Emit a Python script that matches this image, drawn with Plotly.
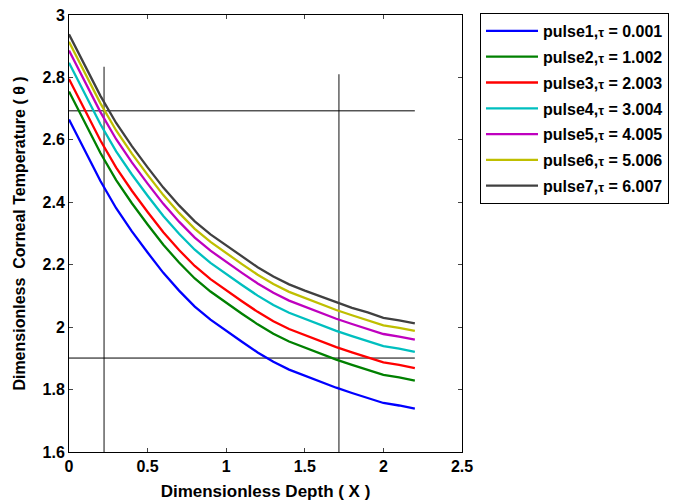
import plotly.graph_objects as go

depth = [0.0, 0.1, 0.2, 0.3, 0.4, 0.5, 0.6, 0.7, 0.8, 0.9, 1.0, 1.1,
         1.2, 1.3, 1.4, 1.5, 1.6, 1.7, 1.8, 1.9, 2.0, 2.1, 2.2]

pulse1 = [2.665, 2.564, 2.468, 2.381, 2.307, 2.239, 2.174, 2.117, 2.066, 2.024, 1.988, 1.953,
          1.919, 1.889, 1.864, 1.844, 1.825, 1.806, 1.789, 1.774, 1.757, 1.749, 1.739]
pulse2 = [2.755, 2.654, 2.558, 2.471, 2.397, 2.329, 2.264, 2.207, 2.156, 2.114, 2.078, 2.043,
          2.009, 1.979, 1.954, 1.934, 1.915, 1.896, 1.879, 1.864, 1.847, 1.839, 1.829]
pulse3 = [2.795, 2.694, 2.598, 2.511, 2.437, 2.369, 2.304, 2.247, 2.196, 2.154, 2.118, 2.083,
          2.049, 2.019, 1.994, 1.974, 1.955, 1.936, 1.919, 1.904, 1.887, 1.879, 1.869]
pulse4 = [2.847, 2.746, 2.650, 2.563, 2.489, 2.421, 2.356, 2.299, 2.248, 2.206, 2.170, 2.135,
          2.101, 2.071, 2.046, 2.026, 2.007, 1.988, 1.971, 1.956, 1.939, 1.931, 1.921]
pulse5 = [2.886, 2.785, 2.689, 2.602, 2.528, 2.460, 2.395, 2.338, 2.287, 2.245, 2.209, 2.174,
          2.140, 2.110, 2.085, 2.065, 2.046, 2.027, 2.010, 1.995, 1.978, 1.970, 1.960]
pulse6 = [2.914, 2.813, 2.717, 2.630, 2.556, 2.488, 2.423, 2.366, 2.315, 2.273, 2.237, 2.202,
          2.168, 2.138, 2.113, 2.093, 2.074, 2.055, 2.038, 2.023, 2.006, 1.998, 1.988]
pulse7 = [2.938, 2.837, 2.741, 2.654, 2.580, 2.512, 2.447, 2.390, 2.339, 2.297, 2.261, 2.226,
          2.192, 2.162, 2.137, 2.117, 2.098, 2.079, 2.062, 2.047, 2.030, 2.022, 2.012]

series = [pulse1, pulse2, pulse3, pulse4, pulse5, pulse6, pulse7]
labels = ["pulse1,", "pulse2,", "pulse3,", "pulse4,", "pulse5,", "pulse6,", "pulse7,"]
taus = ["0.001", "1.002", "2.003", "3.004", "4.005", "5.006", "6.007"]
colors = ["#0000FF", "#008000", "#FF0000", "#00BFBF", "#BF00BF", "#BFBF00", "#404040"]

# guide lines
vline1_x = [0.223, 0.223]
vline1_y = [1.6, 2.834]
vline2_x = [1.717, 1.717]
vline2_y = [1.6, 2.81]
hline1_x = [0.0, 2.2]
hline1_y = [2.693, 2.693]
hline2_x = [0.0, 2.2]
hline2_y = [1.901, 1.901]

x_ticks = [0, 0.5, 1, 1.5, 2, 2.5]
y_ticks = [1.6, 1.8, 2.0, 2.2, 2.4, 2.6, 2.8, 3.0]

FONT = "Liberation Sans, Arial, sans-serif"

fig = go.Figure()

for gx, gy, col, w in [(vline1_x, vline1_y, "#555555", 1.4), (vline2_x, vline2_y, "#555555", 1.4),
                       (hline1_x, hline1_y, "#000000", 1), (hline2_x, hline2_y, "#000000", 1)]:
    fig.add_trace(go.Scatter(x=gx, y=gy, mode="lines", line=dict(color=col, width=w),
                             showlegend=False, hoverinfo="skip"))

for i, (s, lab, tau, col) in enumerate(zip(series, labels, taus, colors)):
    fig.add_trace(go.Scatter(
        x=depth, y=s, mode="lines",
        line=dict(color=col, width=2.3),
        name=f"<b>{lab}<span style='font-size:13px'>τ</span> = {tau}</b>",
        legendgroup=f"g{i}",
    ))

fig.update_layout(
    width=672, height=494,
    margin=dict(l=61, r=218, t=7, b=50, autoexpand=False),
    paper_bgcolor="white", plot_bgcolor="white",
    font=dict(family=FONT, color="black", size=16),
    legend=dict(
        x=1.0458, y=1.0046, xanchor="left", yanchor="top",
        bordercolor="black", borderwidth=1,
        font=dict(size=16, family=FONT),
        tracegroupgap=2, itemwidth=52,
    ),
    showlegend=True,
)

fig.update_xaxes(
    range=[0, 2.5], tickvals=x_ticks, ticks="inside", ticklen=4,
    showline=True, linecolor="black", linewidth=1, mirror="ticks",
    showgrid=False, zeroline=False, automargin=False, ticklabeloverflow="allow",
    tickfont=dict(size=16, family=FONT, weight="bold"),
    title=dict(text="<b>Dimensionless Depth ( X )</b>", font=dict(size=17), standoff=10),
)
fig.update_yaxes(
    range=[1.6, 3.0], tickvals=y_ticks, ticks="inside", ticklen=4,
    showline=True, linecolor="black", linewidth=1, mirror="ticks",
    showgrid=False, zeroline=False, automargin=False, ticklabeloverflow="allow",
    tickfont=dict(size=16, family=FONT, weight="bold"),
    title=dict(text="<b>Dimensionless&nbsp; Corneal Temperature ( θ )</b>", font=dict(size=16), standoff=12),
)

fig.write_html("out.html")
